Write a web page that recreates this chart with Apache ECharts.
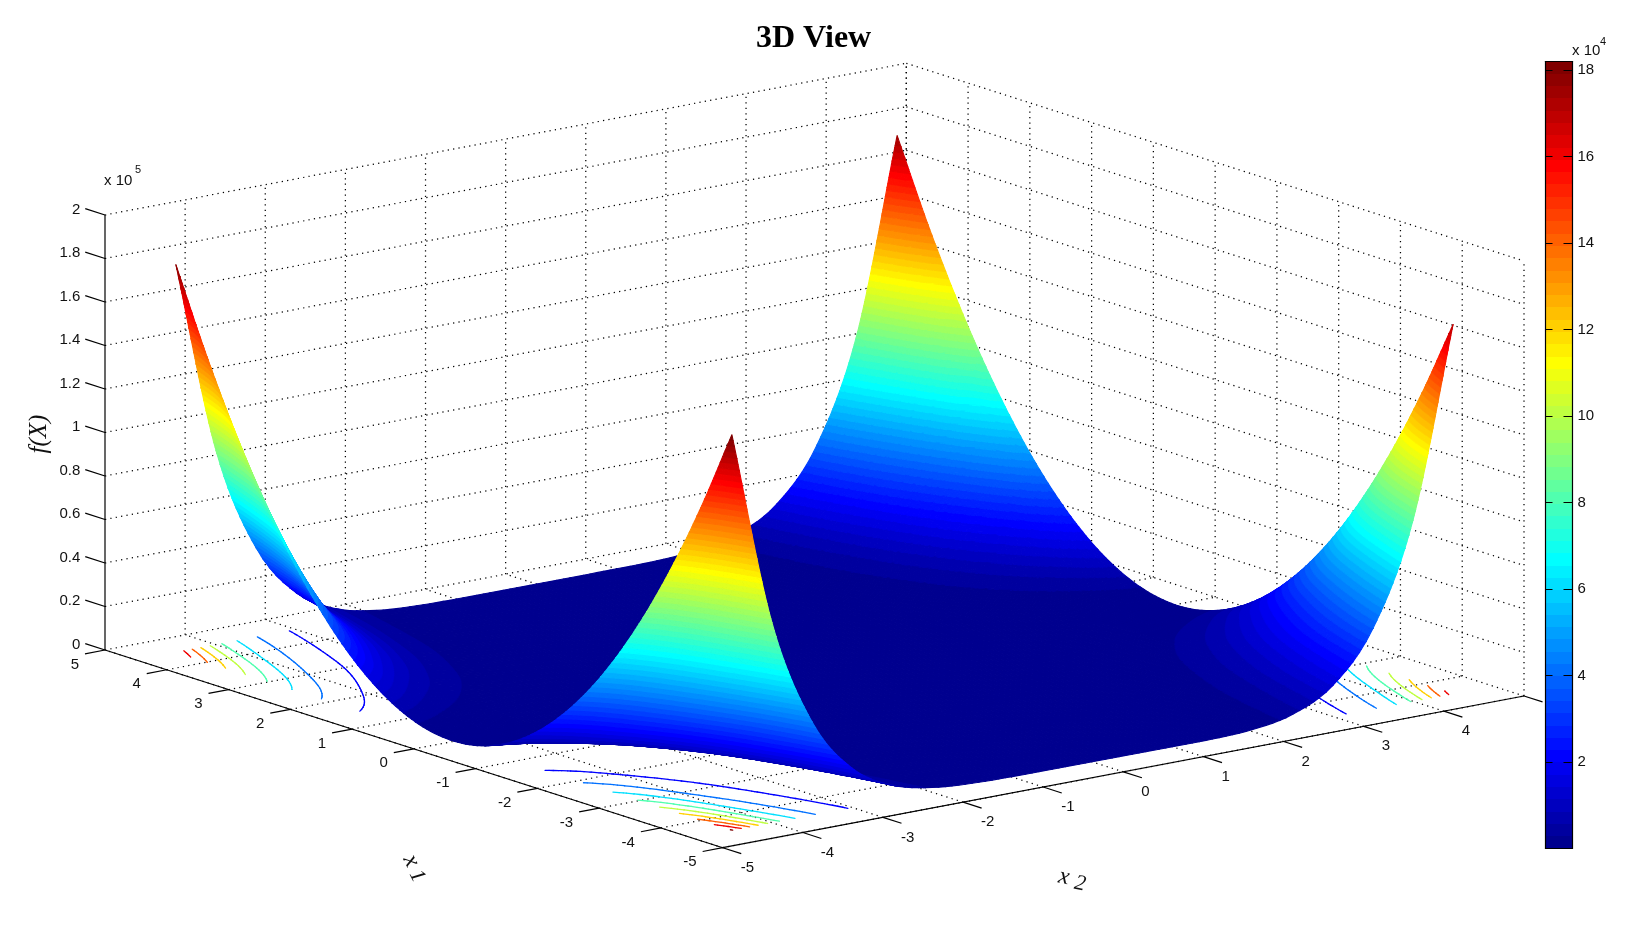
<!DOCTYPE html>
<html>
<head>
<meta charset="utf-8">
<style>html,body{margin:0;padding:0;background:#fff}#chart{width:1632px;height:945px}</style>
<script src="https://cdn.jsdelivr.net/npm/echarts@6/dist/echarts.min.js"></script>
</head>
<body>
<div id="chart"></div>
<script>
// ---------- values ----------
const x1Values = [-4.5,-4,-3.5,-3,-2.5,-2,-1.5,-1,-0.5,0,0.5,1,1.5,2,2.5,3,3.5,4,4.5];
const x2Values = [-4.5,-4,-3.5,-3,-2.5,-2,-1.5,-1,-0.5,0,0.5,1,1.5,2,2.5,3,3.5,4,4.5];
// f(X) along x1, one list per x2 value
const fAtX2m45 = [181853,143873,110337,81245,56597,36392,20632,9316,2443,14,2029,8488,19392,34738,54529,78763,107443,140565,178131];
const fAtX2m40 = [91932,72769,55844,41155,28705,18492,10516,4778,1277,14,989,4200,9650,17336,27261,39423,53822,70459,89334];
const fAtX2m35 = [42838,33936,26070,19240,13446,8687,4966,2279,629,14,435,1893,4386,7915,12480,18080,24718,32390,41100];
const fAtX2m30 = [18064,14330,11029,8159,5722,3716,2143,1001,292,14,169,755,1774,3224,5107,7421,10168,13346,16957];
const fAtX2m25 = [6751,5370,4147,3082,2175,1427,836,404,130,14,56,256,614,1131,1805,2638,3627,4776,6083];
const fAtX2m20 = [2211,1769,1377,1033,740,496,301,156,60,14,18,70,173,324,526,777,1077,1427,1827];
const fAtX2m15 = [672,544,431,332,244,172,112,66,33,14,9,16,38,72,120,182,257,346,448];
const fAtX2m10 = [250,208,170,136,105,79,57,39,24,14,8,5,7,13,23,36,54,76,102];
const fAtX2m05 = [159,134,112,92,74,58,44,32,22,14,8,4,3,3,5,9,16,24,35];
const fAtX2p00 = [132,113,96,79,65,52,40,30,21,14,9,4.5,1.8,0.7,1.1,3,6.3,11.2,17.6];
const fAtX2p05 = [89,77,67,57,48,39,32,25,19,14,9.9,6.3,3.6,1.6,0.4,0,0.2,1,3];
const fAtX2p10 = [14,14,14,14,14,14,14,14,14,14,14,14,14,14,14,14,14,14,14];
const fAtX2p15 = [77,55,37,22.5,11.8,4.8,1.6,2.1,6.3,14,26,41,60,83,110,140,174,212,253];
const fAtX2p20 = [969,745,551,385,250,143,67,20,2,14,56,126,227,357,516,705,923,1171,1449];
const fAtX2p25 = [4477,3493,2632,1892,1275,779,405,153,23,14,127,363,719,1199,1799,2522,3366,4333,5421];
const fAtX2p30 = [14277,11204,8503,6174,4218,2633,1420,579,111,14,289,937,1956,3347,5110,7246,9753,12632,15883];
const fAtX2p35 = [36961,29083,22148,16157,11108,7003,3841,1622,347,14,625,2178,4675,8115,12498,17825,24094,31307,39463];
const fAtX2p40 = [83292,65633,50076,36619,25265,16011,8860,3810,861,14,1269,4624,10082,17641,27301,39063,52926,68891,86958];
const fAtX2p45 = [169680,133818,102208,74851,51746,32894,18296,7949,1855,14,2425,9089,20006,35176,54598,78273,106200,138380,174812];
const fTable = [fAtX2m45,fAtX2m40,fAtX2m35,fAtX2m30,fAtX2m25,fAtX2m20,fAtX2m15,fAtX2m10,fAtX2m05,fAtX2p00,
                fAtX2p05,fAtX2p10,fAtX2p15,fAtX2p20,fAtX2p25,fAtX2p30,fAtX2p35,fAtX2p40,fAtX2p45];
const x1Ticks = [5,4,3,2,1,0,-1,-2,-3,-4,-5];
const x2Ticks = [-5,-4,-3,-2,-1,0,1,2,3,4,5];
const zTicks = ['0','0.2','0.4','0.6','0.8','1','1.2','1.4','1.6','1.8','2'];
const contourLevels = [20000,40000,60000,80000,100000,120000,140000,160000,180000];
const colorbarMax = 18.2;

// ---------- view of the 3D box ----------
const VIEW = {cx:814.5, cy:673, x1:[-61.77,-19.77], x2:[80.13,-15.17], zPerUnit:-217.5e-5};
function project(a, b, z) {
  return [VIEW.cx + a*VIEW.x1[0] + b*VIEW.x2[0], VIEW.cy + a*VIEW.x1[1] + b*VIEW.x2[1] + z*VIEW.zPerUnit];
}
const fMax = 181853, N = 64, bandW = fMax / N;
function uRamp(k){ if(k<1||k>47) return 0; return k<=16? k/16 : k<=31? 1 : (48-k)/16; }
const jet = [];
for (let k=1;k<=64;k++) {
  const c=v=>Math.round(v*255);
  const r=uRamp(k-24), g=uRamp(k-8), b=uRamp(k+8);
  jet.push('rgb('+c(r)+','+c(g)+','+c(b)+')');
}
function colorIndex(z){ return Math.max(0,Math.min(N-1,Math.floor(z/bandW))); }

// ---------- drawing helpers: smooth display of the table cells ----------
const M = x1Values.length;
function tab(r,c){
  const rr=Math.max(0,Math.min(M-1,r)), cc=Math.max(0,Math.min(M-1,c));
  let v=fTable[rr][cc];
  if(c<0) v=2*fTable[rr][0]-fTable[rr][1];
  if(c>M-1) v=2*fTable[rr][M-1]-fTable[rr][M-2];
  if(r<0) v=2*fTable[0][cc]-fTable[1][cc];
  if(r>M-1) v=2*fTable[M-1][cc]-fTable[M-2][cc];
  return v;
}
function cr(t){ const t2=t*t,t3=t2*t; return [(-t3+2*t2-t)/2,(3*t3-5*t2+2)/2,(-3*t3+4*t2+t)/2,(t3-t2)/2]; }
function sampleCell(i,j,s,t){
  const wu=cr(s), wv=cr(t); let z=0;
  for(let p=0;p<4;p++) for(let q=0;q<4;q++) z+=wv[p]*wu[q]*tab(j+p-1,i+q-1);
  return Math.max(0,z);
}
function clipBand(tri,lo,hi){
  let poly=tri;
  for(const [lim,sgn] of [[lo,1],[hi,-1]]){
    const out=[];
    for(let k=0;k<poly.length;k++){
      const A=poly[k],B=poly[(k+1)%poly.length];
      const da=(A[2]-lim)*sgn, db=(B[2]-lim)*sgn;
      if(da>=0) out.push(A);
      if((da>=0)!==(db>=0)){ const t=da/(da-db); out.push([A[0]+(B[0]-A[0])*t,A[1]+(B[1]-A[1])*t,A[2]+(B[2]-A[2])*t]); }
    }
    poly=out; if(poly.length<3) return null;
  }
  return poly;
}
function poly(out,pts,b){
  out.push({type:'polygon',silent:true,shape:{points:pts.map(p=>[p[0],p[1]])},
    style:{fill:jet[b],stroke:jet[b],lineWidth:1.1,lineJoin:'round'}});
}
function pushTri(out,tri){
  const zs=tri.map(p=>p[2]);
  const lo=colorIndex(Math.min(zs[0],zs[1],zs[2])), hi=colorIndex(Math.max(zs[0],zs[1],zs[2]));
  for(let b=lo;b<=hi;b++){
    const pts= lo===hi? tri : clipBand(tri, b===0?-1:b*bandW, b===N-1?fMax*2:(b+1)*bandW);
    if(pts) poly(out,pts,b);
  }
}
const surfaceCells=[];
for(let i=M-2;i>=0;i--) for(let j=M-2;j>=0;j--) surfaceCells.push([i,j]);

function rowSteps(j){ const e=Math.min(j,M-2-j); return e===0?16:e===1?10:6; }
function renderSurfaceCell(params,api){
  const i=api.value(0), j=api.value(1), nu=8, nv=rowSteps(j);
  const pts=[];
  const hA=x1Values[i+1]-x1Values[i], hB=x2Values[j+1]-x2Values[j];
  for(let a=0;a<=nu;a++){ pts.push([]); for(let b=0;b<=nv;b++){
    const z=sampleCell(i,j,a/nu,b/nv);
    const p=api.coord(project(x1Values[i]+hA*a/nu,x2Values[j]+hB*b/nv,z));
    pts[a].push([p[0],p[1],z]);
  }}
  const children=[];
  for(let a=nu-1;a>=0;a--) for(let b=nv-1;b>=0;b--){
    const P=pts[a][b],Q=pts[a+1][b],R=pts[a+1][b+1],S=pts[a][b+1];
    const k=colorIndex(P[2]);
    if(k===colorIndex(Q[2])&&k===colorIndex(R[2])&&k===colorIndex(S[2])){ poly(children,[P,Q,R,S],k); continue; }
    pushTri(children,[R,Q,S]);
    pushTri(children,[P,Q,S]);
  }
  return {type:'group',children};
}

// ---------- contours on the floor ----------
function renderContour(params,api){
  const level=api.value(0), sub=8, L=(M-1)*sub+1, grid=[];
  for(let a=0;a<L;a++){ const row=[]; for(let b=0;b<L;b++){
    const i=Math.min(M-2,Math.floor(a/sub)), j=Math.min(M-2,Math.floor(b/sub));
    row.push(sampleCell(i,j,a/sub-i,b/sub-j));
  } grid.push(row); }
  const pos=(a,b)=>{ const A=x1Values[0]+(x1Values[1]-x1Values[0])*a/sub, B=x2Values[0]+(x2Values[1]-x2Values[0])*b/sub; return api.coord(project(A,B,0)); };
  const color=jet[colorIndex(level)], children=[];
  for(let a=0;a<L-1;a++) for(let b=0;b<L-1;b++){
    const c=[[a,b],[a+1,b],[a+1,b+1],[a,b+1]], hits=[];
    for(let k=0;k<4;k++){
      const P=c[k],Q=c[(k+1)%4],zp=grid[P[0]][P[1]],zq=grid[Q[0]][Q[1]];
      if((zp>=level)!==(zq>=level)){ const t=(level-zp)/(zq-zp); hits.push(pos(P[0]+(Q[0]-P[0])*t,P[1]+(Q[1]-P[1])*t)); }
    }
    for(let k=0;k+1<hits.length;k+=2) children.push({type:'line',silent:true,
      shape:{x1:hits[k][0],y1:hits[k][1],x2:hits[k+1][0],y2:hits[k+1][1]},style:{stroke:color,lineWidth:1.3,lineCap:'round'}});
  }
  return {type:'group',children};
}

// ---------- box: dotted grid on floor and back walls ----------
const zMax=200000, zStep=20000, zVals=zTicks.map((t,k)=>k*zStep);
const gridSegments=[];
x1Ticks.forEach(a=>{ gridSegments.push([a,-5,0,a,5,0]); gridSegments.push([a,5,0,a,5,zMax]); });
x2Ticks.forEach(b=>{ gridSegments.push([-5,b,0,5,b,0]); if(b>-5) gridSegments.push([5,b,0,5,b,zMax]); });
zVals.forEach(z=>{ if(z>0){ gridSegments.push([5,-5,z,5,5,z]); gridSegments.push([5,5,z,-5,5,z]); } });
function renderGridSegment(params,api){
  const s=gridSegments[params.dataIndex];
  const P=api.coord(project(s[0],s[1],s[2])), Q=api.coord(project(s[3],s[4],s[5]));
  return {type:'line',silent:true,shape:{x1:P[0],y1:P[1],x2:Q[0],y2:Q[1]},style:{stroke:'#000',lineWidth:1.25,lineDash:[1.25,4.2]}};
}

// ---------- solid axes, ticks and labels ----------
const SANS='15px "Liberation Sans"';
function label(x,y,text,align,font,rotation){
  return {type:'text',silent:true,x:x,y:y,rotation:rotation||0,
    style:{text:text,x:0,y:0,font:font||SANS,fill:'#111',align:align||'center',verticalAlign:'middle'}};
}
function solid(P,Q,w){ return {type:'line',silent:true,shape:{x1:P[0],y1:P[1],x2:Q[0],y2:Q[1]},style:{stroke:'#000',lineWidth:w||1.2}}; }
function renderAxes(params,api){
  const c=(a,b,z)=>api.coord(project(a,b,z)), kids=[];
  kids.push(solid(c(5,-5,0),c(5,-5,zMax)));
  kids.push(solid(c(5,-5,0),c(-5,-5,0)));
  kids.push(solid(c(-5,-5,0),c(-5,5,0)));
  zTicks.forEach((t,k)=>{
    const P=c(5,-5,zVals[k]), Q=c(5.32,-5,zVals[k]);
    kids.push(solid(P,Q)); kids.push(label(Q[0]-5,P[1]-5.5,t,'right'));
  });
  x1Ticks.forEach(a=>{
    const P=c(a,-5,0), Q=c(a,-5.25,0);
    kids.push(solid(P,Q)); kids.push(label(P[0]-26,P[1]+14.5,String(a),'right'));
  });
  x2Ticks.forEach(b=>{
    const P=c(-5,b,0), Q=c(-5.3,b,0);
    kids.push(solid(P,Q));
    if(b<5) kids.push(label(P[0]+18,P[1]+20,String(b),'left'));
  });
  const top=c(5,-5,zMax);
  kids.push(label(top[0]-1,top[1]-34,'x 10','left'));
  kids.push(label(top[0]+33,top[1]-45,'5','center','11px "Liberation Sans"'));
  const ITAL='italic 25px "Liberation Serif"';
  kids.push(label(39,434,'f(X)','center',ITAL,Math.PI/2));
  kids.push(label(411,861,'x','center','italic 24px "Liberation Serif"',-1.1));
  kids.push(label(417,876,'1','center','italic 22px "Liberation Serif"',-1.1));
  kids.push(label(1064,877,'x','center','italic 24px "Liberation Serif"',-0.2));
  kids.push(label(1080,884,'2','center','italic 22px "Liberation Serif"',-0.2));
  kids.push(label(1572,50.5,'x 10','left'));
  kids.push(label(1603,42,'4','center','11px "Liberation Sans"'));
  return {type:'group',children:kids};
}

// ---------- colour bar ----------
function renderBand(params,api){
  const k=params.dataIndex;
  const P=api.coord([0,(k+1)*colorbarMax/N]), Q=api.coord([1,k*colorbarMax/N]);
  const y0=Math.round(P[1]), y1=Math.round(Q[1]);
  return {type:'rect',silent:true,shape:{x:P[0],y:y0,width:Q[0]-P[0],height:y1-y0},
    style:{fill:jet[k]}};
}

const sceneAxis=(type)=>({type:'value',gridIndex:0,show:false,min:0,max:type==='x'?1632:945,inverse:type==='y'});
const flat=a=>a.map(v=>[v]);
const chart=echarts.init(document.getElementById('chart'),null,{renderer:'canvas'});
chart.setOption({
  animation:false,
  backgroundColor:'#fff',
  title:{text:'3D View',left:808.6,top:18,textAlign:'center',
    textStyle:{fontFamily:'Liberation Serif',fontWeight:'bold',fontSize:32,color:'#000'}},
  tooltip:{show:false},
  grid:[
    {left:0,top:0,width:1632,height:945,containLabel:false},
    {left:1545.5,top:61.5,width:27,height:787,containLabel:false}
  ],
  xAxis:[
    sceneAxis('x'),
    {type:'value',gridIndex:1,min:0,max:1,position:'bottom',z:6,axisLabel:{show:false},axisTick:{show:false},splitLine:{show:false},axisLine:{show:true,onZero:false,lineStyle:{color:'#000',width:1.2}}},
    {type:'value',gridIndex:1,min:0,max:1,position:'top',z:6,axisLabel:{show:false},axisTick:{show:false},splitLine:{show:false},axisLine:{show:true,onZero:false,lineStyle:{color:'#000',width:1.2}}}
  ],
  yAxis:[
    sceneAxis('y'),
    {type:'value',gridIndex:1,min:0,max:colorbarMax,interval:2,position:'left',z:6,
      axisLabel:{show:false},splitLine:{show:false},
      axisTick:{show:true,inside:true,length:7,lineStyle:{color:'#000',width:1}},
      axisLine:{show:true,onZero:false,lineStyle:{color:'#000',width:1.2}}},
    {type:'value',gridIndex:1,min:0,max:colorbarMax,interval:2,position:'right',z:6,
      axisLabel:{show:true,margin:5,showMinLabel:false,showMaxLabel:false,color:'#111',fontFamily:'Liberation Sans',fontSize:15},
      splitLine:{show:false},
      axisTick:{show:true,inside:true,length:9,lineStyle:{color:'#000',width:1}},
      axisLine:{show:true,onZero:false,lineStyle:{color:'#000',width:1.2}}}
  ],
  series:[
    {type:'custom',name:'grid',coordinateSystem:'cartesian2d',xAxisIndex:0,yAxisIndex:0,clip:false,silent:true,
      progressive:0,data:gridSegments.map((s,k)=>[k]),renderItem:renderGridSegment,encode:{x:0,y:0}},
    {type:'custom',name:'contours',coordinateSystem:'cartesian2d',xAxisIndex:0,yAxisIndex:0,clip:false,silent:true,
      progressive:0,data:flat(contourLevels),renderItem:renderContour,encode:{x:0,y:0}},
    {type:'custom',name:'f(X)',coordinateSystem:'cartesian2d',xAxisIndex:0,yAxisIndex:0,clip:false,silent:true,
      progressive:0,data:surfaceCells,renderItem:renderSurfaceCell,encode:{x:0,y:1}},
    {type:'custom',name:'axes',coordinateSystem:'cartesian2d',xAxisIndex:0,yAxisIndex:0,clip:false,silent:true,
      progressive:0,data:[[0]],renderItem:renderAxes,encode:{x:0,y:0}},
    {type:'custom',name:'colorbar',coordinateSystem:'cartesian2d',xAxisIndex:1,yAxisIndex:1,clip:true,silent:true,
      progressive:0,data:jet.map((c,k)=>[k]),renderItem:renderBand,encode:{x:0,y:0}}
  ]
});
</script>
</body>
</html>
